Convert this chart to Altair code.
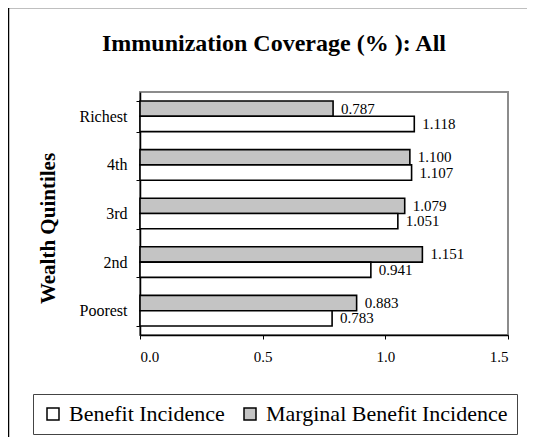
import altair as alt
import pandas as pd

quintiles = ["Richest", "4th", "3rd", "2nd", "Poorest"]
benefit = [1.118, 1.107, 1.051, 0.941, 0.783]
marginal = [0.787, 1.100, 1.079, 1.151, 0.883]
series = ["Benefit Incidence", "Marginal Benefit Incidence"]
x_ticks = [0.0, 0.5, 1.0, 1.5]

rows = []
for q, b, m in zip(quintiles, benefit, marginal):
    rows.append({"q": q, "series": series[1], "v": m, "order": 0})
    rows.append({"q": q, "series": series[0], "v": b, "order": 1})
df = pd.DataFrame(rows)
df["label"] = df["v"].map(lambda v: f"{v:.3f}")

W, H = 368, 243
FONT = "Liberation Serif"

y_enc = alt.Y(
    "q:N",
    sort=quintiles,
    scale=alt.Scale(paddingInner=0.37, paddingOuter=0.185),
    axis=alt.Axis(
        title="Wealth Quintiles",
        titleFont=FONT,
        titleFontSize=21,
        titleFontWeight="bold",
        titleColor="black",
        titleX=-92,
        titleY=136,
        titleAngle=270,
        titleAlign="center",
        titleBaseline="middle",
        labelFont=FONT,
        labelFontSize=16,
        labelColor="black",
        labelPadding=9,
        tickSize=4,
        tickColor="black",
        tickBand="extent",
        domainColor="black",
        domainWidth=1.5,
    ),
)
yoff = alt.YOffset("order:O", scale=alt.Scale(paddingInner=0, paddingOuter=0))
x_enc = alt.X(
    "v:Q",
    scale=alt.Scale(domain=[0, 1.5], nice=False),
    axis=alt.Axis(
        title=None,
        values=x_ticks,
        format=".1f",
        labelFont=FONT,
        labelFontSize=15,
        labelColor="black",
        labelPadding=10,
        tickSize=4,
        tickColor="black",
        domainColor="black",
        domainWidth=1.5,
        grid=False,
    ),
)

bars = alt.Chart(df).mark_bar(stroke="black", strokeWidth=1.6).encode(
    y=y_enc,
    yOffset=yoff,
    x=x_enc,
    fill=alt.Fill(
        "series:N",
        scale=alt.Scale(domain=series, range=["white", "#c4c4c4"]),
        legend=alt.Legend(
            title=None,
            orient="none",
            legendX=-107,
            legendY=302,
            direction="horizontal",
            strokeColor="#444",
            fillColor="white",
            padding=9,
            columnPadding=14,
            symbolType="square",
            symbolSize=144,
            symbolStrokeColor="black",
            symbolStrokeWidth=1.5,
            labelFont=FONT,
            labelFontSize=22,
            labelColor="black",
            labelOffset=5,
            labelLimit=400,
        ),
    ),
)

labels = alt.Chart(df).mark_text(
    align="left", baseline="middle", dx=8, font=FONT, fontSize=15, color="black"
).encode(y=alt.Y("q:N", sort=quintiles), yOffset=alt.YOffset("order:O"), x="v:Q", text="label:N")

frame_df = pd.DataFrame({"k": [0]})
left_line = alt.Chart(frame_df).mark_rule(color="black", strokeWidth=1.5).encode(
    x=alt.value(-131.5), y=alt.value(-85), y2=alt.value(350)
)
top_line = alt.Chart(frame_df).mark_rule(color="black", strokeWidth=1.5).encode(
    x=alt.value(-132), x2=alt.value(390), y=alt.value(-84.5)
)

chart = (
    alt.layer(bars, labels, left_line, top_line)
    .properties(
        width=W,
        height=H,
        title=alt.TitleParams(
            "Immunization Coverage (% ): All",
            font=FONT,
            fontSize=24,
            fontWeight="bold",
            color="black",
            anchor="middle",
            dx=-50,
            offset=-50,
        ),
        autosize=alt.AutoSizeParams(type="none"),
        padding={"left": 132, "top": 84, "right": 19, "bottom": 102},
        background="white",
    )
    .configure_view(stroke="#8c8c8c", strokeWidth=2)
)

chart.save("out.html", embed_options={"renderer": "svg", "actions": False})
